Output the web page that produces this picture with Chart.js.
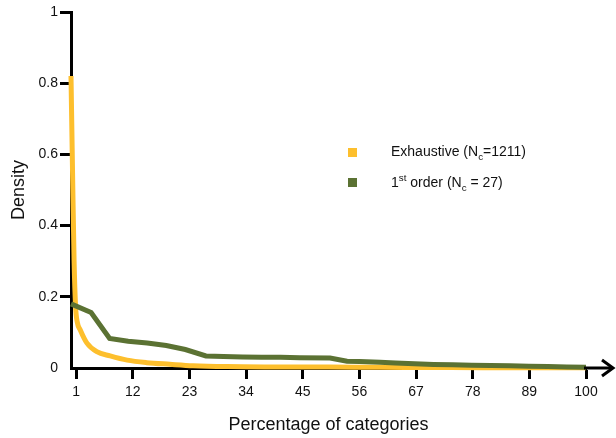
<!DOCTYPE html>
<html>
<head>
<meta charset="utf-8">
<script src="https://cdn.jsdelivr.net/npm/chart.js@4.4.1/dist/chart.umd.min.js"></script>
<style>
  body { margin: 0; background: #fff; }
  #wrap { position: relative; width: 616px; height: 438px; font-family: "Liberation Sans", Arial, sans-serif; }
  .key { position: absolute; left: 348px; width: 9px; height: 9px; }
  .lab { position: absolute; left: 391px; font-size: 14px; line-height: 16px; color: #111; white-space: nowrap; }
  .lab sub, .lab sup { font-size: 70%; line-height: 0; }
</style>
</head>
<body>
<div id="wrap">
  <canvas id="chart" width="616" height="438"></canvas>
  <div class="key" style="top:148px;background:#FDBF2D"></div>
  <div class="lab" style="top:143px">Exhaustive (N<sub>c</sub>=1211)</div>
  <div class="key" style="top:178px;background:#5B7233"></div>
  <div class="lab" style="top:174px">1<sup>st</sup> order (N<sub>c</sub> = 27)</div>
</div>
<script>
// values
const xTickValues = [1, 12, 23, 34, 45, 56, 67, 78, 89, 100];

const exhaustiveX = [0, 0.3, 0.6, 0.9, 1.2, 1.8, 3.1, 5.0, 7.6, 10.9, 14.7, 19.2, 23.7, 30.3, 40, 50, 60, 70, 80, 90, 100];
const exhaustiveY = [0.82, 0.55, 0.3, 0.17, 0.13, 0.107, 0.07, 0.046, 0.034, 0.022, 0.015, 0.0105, 0.0065, 0.004, 0.003, 0.0025, 0.002, 0.0015, 0.001, 0.0008, 0.0005];

const firstOrderX = [0, 3.9, 7.5, 11.1, 14.8, 18.5, 22.2, 26.2, 29.6, 33.3, 37.0, 40.7, 44.4, 50.3, 53.6, 56, 60, 63, 66.7, 70.4, 74.1, 77.8, 81.5, 85.2, 88.9, 92.6, 96.3, 100];
const firstOrderY = [0.18, 0.156, 0.083, 0.075, 0.07, 0.063, 0.052, 0.034, 0.032, 0.031, 0.03, 0.03, 0.029, 0.028, 0.019, 0.018, 0.016, 0.014, 0.012, 0.01, 0.009, 0.008, 0.007, 0.006, 0.005, 0.004, 0.003, 0.002];

function pts(xs, ys) {
  return xs.map((x, i) => ({ x: x, y: ys[i] }));
}

const arrowAxis = {
  id: 'arrowAxis',
  afterDraw(chart) {
    const { ctx, chartArea } = chart;
    const y = chart.scales.y.getPixelForValue(0);
    ctx.save();
    ctx.strokeStyle = '#000';
    ctx.lineWidth = 3;
    ctx.beginPath();
    ctx.moveTo(chartArea.right - 2, y);
    ctx.lineTo(612, y);
    ctx.stroke();
    ctx.beginPath();
    ctx.moveTo(602, y - 8);
    ctx.lineTo(613, y);
    ctx.lineTo(602, y + 8);
    ctx.stroke();
    ctx.restore();
  },
};

const font = { family: '"Liberation Sans", Arial, sans-serif', size: 14 };

new Chart(document.getElementById('chart'), {
  type: 'line',
  data: {
    datasets: [
      {
        label: 'Exhaustive',
        data: pts(exhaustiveX, exhaustiveY),
        borderColor: '#FDBF2D',
        borderWidth: 5,
        pointRadius: 0,
        cubicInterpolationMode: 'monotone',
        clip: 6,
        order: 2,
      },
      {
        label: '1st order',
        data: pts(firstOrderX, firstOrderY),
        borderColor: '#5B7233',
        borderWidth: 5,
        pointRadius: 0,
        tension: 0,
        clip: 6,
        order: 1,
      },
    ],
  },
  plugins: [arrowAxis],
  options: {
    responsive: false,
    animation: false,
    layout: { padding: { top: 12, right: 30, left: 0, bottom: 0 } },
    plugins: { legend: { display: false }, tooltip: { enabled: false } },
    scales: {
      x: {
        type: 'linear',
        min: 0,
        max: 100,
        afterFit: (s) => { s.height = 70; },
        afterBuildTicks: (s) => { s.ticks = xTickValues.map((v) => ({ value: v })); },
        border: { display: true, color: '#000', width: 3 },
        grid: { drawOnChartArea: false, drawTicks: true, tickLength: 11, tickWidth: 3, color: '#000' },
        ticks: { color: '#111', font: font, padding: 5, maxRotation: 0, autoSkip: false },
        title: { display: true, text: 'Percentage of categories', color: '#111', font: { family: font.family, size: 18 }, padding: { top: 0, bottom: 2 } },
      },
      y: {
        min: 0,
        max: 1,
        afterFit: (s) => { s.width = 71; },
        border: { display: true, color: '#000', width: 3 },
        grid: {
          drawOnChartArea: false,
          drawTicks: true,
          tickLength: 11,
          tickWidth: 3,
          color: (c) => (c.tick && c.tick.value === 0 ? 'rgba(0,0,0,0)' : '#000'),
        },
        ticks: {
          stepSize: 0.2,
          color: '#111',
          font: font,
          padding: 2,
          callback: (v) => String(Number(v.toFixed(1))),
        },
        title: { display: true, text: 'Density', color: '#111', font: { family: font.family, size: 18 }, padding: { top: 8, bottom: 0 } },
      },
    },
  },
});
</script>
</body>
</html>
